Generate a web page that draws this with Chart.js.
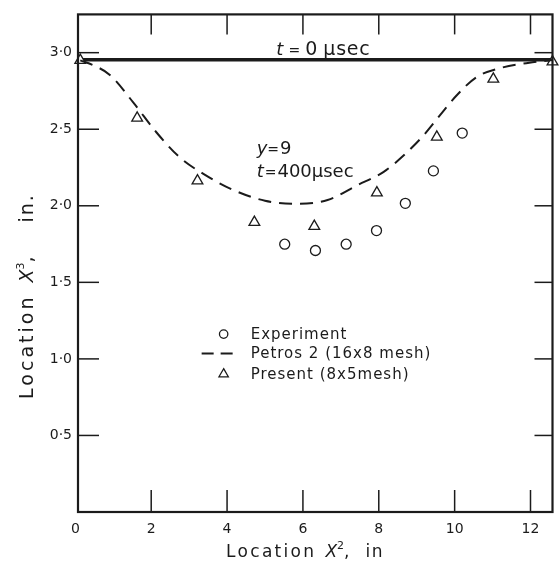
<!DOCTYPE html>
<html><head><meta charset="utf-8">
<script src="https://cdn.jsdelivr.net/npm/chart.js@4.4.0/dist/chart.umd.min.js"></script>
<style>html,body{margin:0;padding:0;background:#fff;}#wrap{width:560px;height:561px;}</style>
</head><body><div id="wrap"><canvas id="c" width="560" height="561"></canvas></div>
<script>
// ---- data ----
const xTicks = [0, 2, 4, 6, 8, 10, 12];
const yTicks = [0.5, 1.0, 1.5, 2.0, 2.5, 3.0];
const xRange = [0.07, 12.58];
const yRange = [0, 3.25];

const expX = [5.52, 6.33, 7.14, 7.94, 8.70, 9.44, 10.20];
const expY = [1.749, 1.708, 1.749, 1.838, 2.016, 2.228, 2.475];

const presX = [0.13, 1.63, 3.22, 4.72, 6.30, 7.95, 9.53, 11.02, 12.58];
const presY = [2.95, 2.573, 2.163, 1.892, 1.866, 2.085, 2.449, 2.828, 2.94];

const petX = [0.13, 0.5, 0.91, 1.52, 2.13, 2.74, 3.43, 4.13, 5.00, 5.85, 6.65, 7.44, 8.13, 8.66, 9.18, 9.61, 10.05, 10.57, 11.27, 12.05, 12.58];
const petY = [2.95, 2.915, 2.855, 2.677, 2.482, 2.319, 2.200, 2.107, 2.033, 2.013, 2.038, 2.135, 2.222, 2.330, 2.460, 2.590, 2.720, 2.839, 2.904, 2.937, 2.952];

const t0X = [0.13, 12.58];
const t0Y = [2.953, 2.953];

const seriesNames = ['Experiment', 'Petros 2 (16x8 mesh)', 'Present (8x5mesh)'];

// ---- style ----
const INK = '#1b1b1b';
const FONT = '"DejaVu Sans", sans-serif';
const pts = (xs, ys) => xs.map((v, i) => ({x: v, y: ys[i]}));
const fmtY = v => v.toFixed(1).replace('.', '\u00b7');

function rich(ctx, parts, x, y, align) {
  let w = 0;
  parts.forEach(p => {
    ctx.font = p.f; ctx.letterSpacing = (p.ls || 0) + 'px';
    p.w = ctx.measureText(p.t).width; w += p.w + (p.gap || 0);
  });
  let cx = align === 'center' ? x - w / 2 : x;
  parts.forEach(p => {
    ctx.font = p.f; ctx.letterSpacing = (p.ls || 0) + 'px';
    ctx.fillText(p.t, cx, y + (p.dy || 0)); cx += p.w + (p.gap || 0);
  });
  ctx.letterSpacing = '0px';
}

const decor = {
  id: 'decor',
  afterDatasetsDraw(chart) {
    const {ctx, chartArea: a, scales: {x, y}} = chart;
    ctx.save();
    ctx.strokeStyle = INK; ctx.lineWidth = 1.5;
    const seg = (x1, y1, x2, y2) => { ctx.beginPath(); ctx.moveTo(x1, y1); ctx.lineTo(x2, y2); ctx.stroke(); };
    xTicks.forEach(v => {
      if (v === 0) return;
      const px = x.getPixelForValue(v);
      seg(px, a.bottom, px, a.bottom - 22);
      seg(px, a.top, px, a.top + 20);
    });
    yTicks.forEach(v => {
      const py = y.getPixelForValue(v);
      seg(a.left, py, a.left + 21, py);
      seg(a.right, py, a.right - 18, py);
    });
    ctx.lineWidth = 2.2;
    ctx.strokeRect(a.left, a.top, a.right - a.left, a.bottom - a.top);

    // annotations
    ctx.fillStyle = INK; ctx.textBaseline = 'alphabetic';
    rich(ctx, [
      {t: 't', f: 'italic 18px ' + FONT, gap: 5},
      {t: '=', f: '14px ' + FONT, gap: 5},
      {t: '0', f: '19px ' + FONT, gap: 6},
      {t: '\u03bcsec', f: '19px ' + FONT, ls: 0.8}
    ], x.getPixelForValue(5.3), y.getPixelForValue(2.982), 'left');
    rich(ctx, [
      {t: 'y', f: 'italic 18px ' + FONT},
      {t: '=', f: '14px ' + FONT, gap: 1},
      {t: '9', f: '18px ' + FONT}
    ], x.getPixelForValue(4.78), y.getPixelForValue(2.339), 'left');
    rich(ctx, [
      {t: 't', f: 'italic 18px ' + FONT, gap: 1},
      {t: '=', f: '14px ' + FONT, gap: 1},
      {t: '400\u03bcsec', f: '18px ' + FONT}
    ], x.getPixelForValue(4.78), y.getPixelForValue(2.19), 'left');

    // legend
    const ds = chart.data.datasets;
    const lx = x.getPixelForValue(3.91);
    const ly0 = y.getPixelForValue(1.162);
    const dy = [0, 19.5, 40];
    [0, 1, 2].forEach((k, i) => {
      const d = ds[k];
      const yy = ly0 + dy[i];
      if (k === 1) {
        ctx.save(); ctx.setLineDash([12, 7]); ctx.lineWidth = 2; ctx.strokeStyle = INK;
        seg(lx - 22, yy, lx + 16, yy); ctx.restore();
      } else {
        ctx.save();
        ctx.strokeStyle = INK; ctx.fillStyle = '#fff'; ctx.lineWidth = d.pointBorderWidth;
        Chart.helpers.drawPoint(ctx, {pointStyle: d.pointStyle, radius: d.pointRadius - 0.8, rotation: 0, borderWidth: d.pointBorderWidth}, lx, yy);
        ctx.restore();
      }
      ctx.fillStyle = INK; ctx.textBaseline = 'middle';
      rich(ctx, [{t: d.label, f: '15px ' + FONT, ls: 1}], lx + 27, yy + 1, 'left');
    });

    // axis titles
    ctx.textBaseline = 'alphabetic'; ctx.fillStyle = INK;
    rich(ctx, [
      {t: 'Location', f: '17px ' + FONT, ls: 2.3, gap: 9},
      {t: 'X', f: 'italic 17px ' + FONT},
      {t: '2', f: '11px ' + FONT, dy: -8},
      {t: ',', f: '17px ' + FONT, gap: 16},
      {t: 'in', f: '17px ' + FONT, ls: 1.5}
    ], 305, 557, 'center');
    ctx.save();
    ctx.translate(33, 296); ctx.rotate(-Math.PI / 2);
    rich(ctx, [
      {t: 'Location', f: '19px ' + FONT, ls: 3, gap: 12},
      {t: 'X', f: 'italic 19px ' + FONT},
      {t: '3', f: '11px ' + FONT, dy: -9},
      {t: ',', f: '19px ' + FONT, gap: 34},
      {t: 'in.', f: '19px ' + FONT, ls: 2}
    ], 0, 0, 'center');
    ctx.restore();
    ctx.restore();
  }
};

new Chart(document.getElementById('c'), {
  type: 'scatter',
  data: {
    datasets: [
      {label: seriesNames[0], data: pts(expX, expY), showLine: false, pointStyle: 'circle',
       pointRadius: 5, pointBorderWidth: 1.3, pointBorderColor: INK, pointBackgroundColor: '#fff', clip: false},
      {label: seriesNames[1], data: pts(petX, petY), showLine: true, borderColor: INK, borderWidth: 2,
       borderDash: [13, 8], cubicInterpolationMode: 'monotone', pointRadius: 0, fill: false},
      {label: seriesNames[2], data: pts(presX, presY), showLine: false, pointStyle: 'triangle',
       pointRadius: 6.2, pointBorderWidth: 1.3, pointBorderColor: INK, pointBackgroundColor: '#fff', clip: false},
      {label: 't = 0 \u03bcsec', data: pts(t0X, t0Y), showLine: true, borderColor: INK, borderWidth: 3.5,
       pointRadius: 0, fill: false, order: 5}
    ]
  },
  options: {
    responsive: false, animation: false, devicePixelRatio: 1,
    layout: {padding: {top: 12, right: 3, left: 0, bottom: 0}},
    plugins: {legend: {display: false}, tooltip: {enabled: false}},
    scales: {
      x: {
        type: 'linear', min: xRange[0], max: xRange[1],
        afterBuildTicks: s => { s.ticks = xTicks.map(v => ({value: v})); },
        afterFit: s => { s.height = 49; },
        grid: {display: false, drawTicks: false}, border: {display: false},
        ticks: {padding: 9, color: INK, font: {family: FONT, size: 14}, callback: v => String(v), autoSkip: false, maxRotation: 0}
      },
      y: {
        type: 'linear', min: yRange[0], max: yRange[1],
        afterBuildTicks: s => { s.ticks = yTicks.map(v => ({value: v})); },
        afterFit: s => { s.width = 78; },
        grid: {display: false, drawTicks: false}, border: {display: false},
        ticks: {padding: 6, color: INK, font: {family: FONT, size: 14}, callback: v => fmtY(v), autoSkip: false}
      }
    }
  },
  plugins: [decor]
});
</script></body></html>
